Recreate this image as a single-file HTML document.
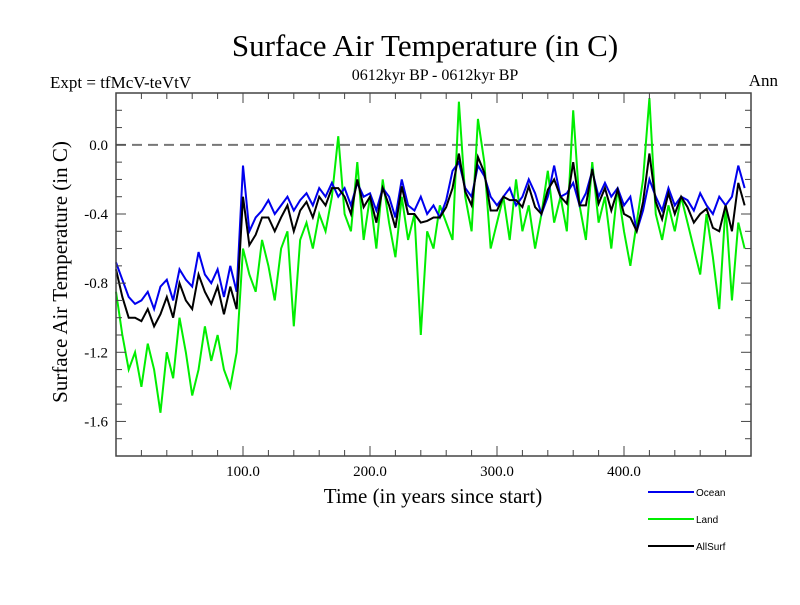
<!DOCTYPE html>
<html><head><meta charset="utf-8"><style>
body{margin:0;background:#fff;width:800px;height:600px;overflow:hidden}
text{font-family:"Liberation Serif",serif}
</style></head><body>
<svg width="800" height="600" id="svg">
<text x="425" y="56" font-size="31" text-anchor="middle">Surface Air Temperature (in C)</text>
<text x="50" y="88" font-size="17">Expt = tfMcV-teVtV</text>
<text x="435" y="80" font-size="16" text-anchor="middle">0612kyr BP - 0612kyr BP</text>
<text x="778" y="86" font-size="17" text-anchor="end">Ann</text>
<text x="433" y="503" font-size="21" text-anchor="middle">Time (in years since start)</text>
<text transform="translate(67,272) rotate(-90)" font-size="21" text-anchor="middle">Surface Air Temperature (in C)</text>
<g id="plot"></g>
</svg>
<script>
const years=[];for(let i=0;i<100;i++)years.push(i*5);
const ocean=[-0.68,-0.78,-0.88,-0.92,-0.9,-0.85,-0.95,-0.82,-0.78,-0.9,-0.72,-0.78,-0.82,-0.62,-0.75,-0.8,-0.72,-0.88,-0.7,-0.85,
-0.12,-0.5,-0.42,-0.38,-0.32,-0.4,-0.35,-0.3,-0.38,-0.32,-0.28,-0.35,-0.25,-0.3,-0.22,-0.3,-0.25,-0.35,-0.22,-0.3,
-0.28,-0.38,-0.25,-0.3,-0.42,-0.2,-0.35,-0.38,-0.3,-0.4,-0.35,-0.42,-0.32,-0.15,-0.1,-0.25,-0.3,-0.12,-0.18,-0.3,
-0.35,-0.3,-0.25,-0.35,-0.3,-0.2,-0.28,-0.4,-0.3,-0.12,-0.3,-0.28,-0.22,-0.35,-0.28,-0.15,-0.3,-0.22,-0.3,-0.25,
-0.35,-0.3,-0.5,-0.38,-0.2,-0.3,-0.38,-0.25,-0.35,-0.3,-0.32,-0.38,-0.28,-0.35,-0.4,-0.3,-0.35,-0.3,-0.12,-0.25];
const land=[-0.85,-1.1,-1.3,-1.2,-1.4,-1.15,-1.3,-1.55,-1.2,-1.35,-1.0,-1.2,-1.45,-1.3,-1.05,-1.25,-1.1,-1.3,-1.4,-1.2,
-0.6,-0.75,-0.85,-0.55,-0.7,-0.9,-0.6,-0.5,-1.05,-0.55,-0.45,-0.6,-0.4,-0.5,-0.3,0.05,-0.4,-0.5,-0.1,-0.55,
-0.3,-0.6,-0.2,-0.45,-0.65,-0.3,-0.55,-0.4,-1.1,-0.5,-0.6,-0.35,-0.45,-0.55,0.25,-0.3,-0.5,0.15,-0.1,-0.6,
-0.45,-0.3,-0.55,-0.2,-0.5,-0.35,-0.6,-0.4,-0.15,-0.45,-0.3,-0.5,0.2,-0.35,-0.55,-0.1,-0.45,-0.3,-0.6,-0.25,
-0.5,-0.7,-0.45,-0.2,0.27,-0.4,-0.55,-0.35,-0.5,-0.3,-0.45,-0.6,-0.75,-0.4,-0.65,-0.95,-0.35,-0.9,-0.45,-0.6];
const allsurf=[-0.72,-0.88,-1.0,-1.0,-1.02,-0.95,-1.05,-0.98,-0.88,-1.0,-0.8,-0.9,-0.95,-0.75,-0.85,-0.92,-0.82,-0.98,-0.82,-0.95,
-0.3,-0.58,-0.52,-0.42,-0.42,-0.5,-0.42,-0.35,-0.5,-0.38,-0.33,-0.42,-0.3,-0.35,-0.25,-0.25,-0.3,-0.4,-0.2,-0.36,
-0.3,-0.45,-0.25,-0.35,-0.48,-0.24,-0.4,-0.4,-0.45,-0.44,-0.42,-0.42,-0.36,-0.25,-0.05,-0.27,-0.35,-0.07,-0.16,-0.38,
-0.38,-0.3,-0.32,-0.32,-0.36,-0.24,-0.36,-0.4,-0.26,-0.2,-0.3,-0.34,-0.1,-0.35,-0.35,-0.14,-0.34,-0.25,-0.38,-0.26,
-0.4,-0.42,-0.5,-0.33,-0.05,-0.33,-0.43,-0.28,-0.4,-0.3,-0.36,-0.45,-0.4,-0.37,-0.48,-0.5,-0.35,-0.5,-0.22,-0.35];
const yTicks=[0.0,-0.4,-0.8,-1.2,-1.6];
const yTickLabels=["0.0","-0.4","-0.8","-1.2","-1.6"];
const xTicks=[100,200,300,400];
const xTickLabels=["100.0","200.0","300.0","400.0"];
const X0=116,X1=751,Y0=93,Y1=456,XMIN=0,XMAX=500,YMIN=-1.8,YMAX=0.3;
const sx=v=>X0+(v-XMIN)/(XMAX-XMIN)*(X1-X0);
const sy=v=>Y1-(v-YMIN)/(YMAX-YMIN)*(Y1-Y0);
const NS="http://www.w3.org/2000/svg",g=document.getElementById('plot');
function mk(t,a){const e=document.createElementNS(NS,t);for(const k in a)e.setAttribute(k,a[k]);g.appendChild(e);return e;}
let e=mk('line',{x1:X0,x2:X1,y1:sy(0),y2:sy(0),stroke:'#777','stroke-width':2,'stroke-dasharray':'10,6'});


function series(vals,col,name){const p=mk('polyline',{points:vals.map((v,i)=>sx(years[i])+','+sy(v)).join(' '),fill:'none',stroke:col,'stroke-width':2});

}
series(land,'#00ee00','land-series');
series(ocean,'#0000ee','ocean-series');
series(allsurf,'#000','allsurf-series');
e=mk('rect',{x:X0,y:Y0,width:X1-X0,height:Y1-Y0,fill:'none',stroke:'#444','stroke-width':1.5});


for(let k=-18;k<=3;k++){const v=k/10;const y=sy(v);const maj=k%4==0;const L=maj?10:6;
mk('line',{x1:X0,x2:X0+L,y1:y,y2:y,stroke:'#444'});mk('line',{x1:X1,x2:X1-L,y1:y,y2:y,stroke:'#444'});}
for(let v=20;v<500;v+=20){const x=sx(v);const L=v%100==0?10:6;
mk('line',{x1:x,x2:x,y1:Y1,y2:Y1-L,stroke:'#444'});mk('line',{x1:x,x2:x,y1:Y0,y2:Y0+L,stroke:'#444'});}
yTicks.forEach((v,i)=>{const t=mk('text',{x:X0-8,y:sy(v)+5,'font-size':15,'text-anchor':'end'});t.textContent=yTickLabels[i];

});
xTicks.forEach((v,i)=>{const t=mk('text',{x:sx(v),y:Y1+20,'font-size':15,'text-anchor':'middle'});t.textContent=xTickLabels[i];

});
[['Ocean','#0000ee',492],['Land','#00ee00',519],['AllSurf','#000',546]].forEach(d=>{
const l=mk('line',{x1:648,x2:694,y1:d[2],y2:d[2],stroke:d[1],'stroke-width':2});


const t=mk('text',{x:696,y:d[2]+4,'font-size':10,style:'font-family:"Liberation Sans",sans-serif'});t.textContent=d[0];

});
</script>
</body></html>
